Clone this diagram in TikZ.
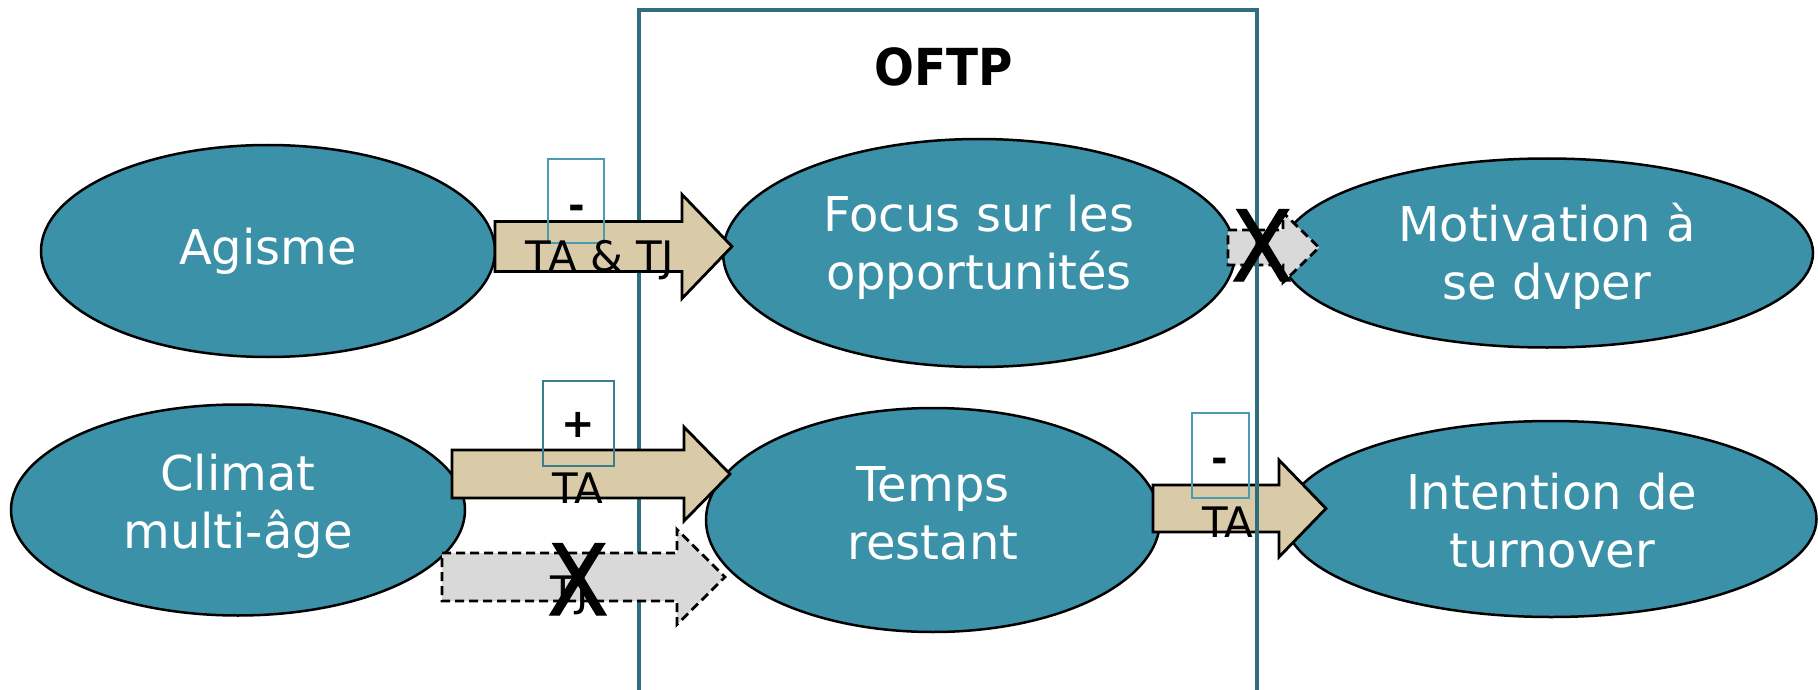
\documentclass[tikz,border=0pt]{standalone}
\usepackage{fontspec}
\setmainfont{DejaVu Sans}
\newfontfamily\titlefont[FakeStretch=0.92]{DejaVu Sans}
\newfontfamily\crossfont[FakeBold=1.2,FakeStretch=0.92]{DejaVu Sans}
\usetikzlibrary{shapes.geometric,calc}

\definecolor{ellfill}{HTML}{3A91A8}
\definecolor{tanfill}{HTML}{DACBA8}
\definecolor{greyfill}{HTML}{D9D9D9}
\definecolor{frameteal}{HTML}{2F6E7C}
\definecolor{boxteal}{HTML}{4B9CB0}
\definecolor{boxdark}{HTML}{3A7D8C}

\tikzset{
  bubble/.style={ellipse, draw=black, line width=2.5pt, fill=ellfill, inner sep=0pt},
  bubbletext/.style={text=white, font=\fontsize{48}{58}\selectfont, align=center, inner sep=0pt},
  bodyhalf/.store in=\abody, headhalf/.store in=\ahead, headlen/.store in=\alen,
  blockarrow/.style={line width=2.8pt, miter limit=10,
    to path={let \p1=(\tikztostart),\p2=(\tikztotarget) in
      (\x1,\y1+\abody pt) -- (\x2-\alen pt,\y1+\abody pt) -- (\x2-\alen pt,\y1+\ahead pt)
      -- (\x2,\y2) -- (\x2-\alen pt,\y1-\ahead pt) -- (\x2-\alen pt,\y1-\abody pt)
      -- (\x1,\y1-\abody pt) -- cycle}},
  solidarrow/.style={blockarrow, draw=black, fill=tanfill},
  dasharrow/.style={blockarrow, draw=black, fill=greyfill, dash pattern=on 9pt off 5pt},
  frame/.style={rectangle, draw=frameteal, line width=3.5pt, inner sep=0pt},
  signbox/.style={rectangle, line width=1.8pt, inner sep=0pt},
  arrowlabel/.style={font=\fontsize{42}{50}\selectfont, anchor=base, inner sep=0pt},
  sign/.style={font=\bfseries\fontsize{40}{48}\selectfont, anchor=base, inner sep=0pt},
  cross/.style={font=\crossfont\fontsize{98}{110}\selectfont, anchor=base, inner sep=0pt}
}

\begin{document}
\begin{tikzpicture}[x=1pt,y=-1pt]
\useasboundingbox (0,0) rectangle (1818,690);

% concepts
\node[bubble, minimum width=454pt, minimum height=212pt] (agisme) at (268,251) {};
\node[bubble, minimum width=512pt, minimum height=228pt] (focus) at (979,253) {};
\node[bubble, minimum width=532pt, minimum height=189pt] (motiv) at (1547,253) {};
\node[bubble, minimum width=454pt, minimum height=211pt] (climat) at (238,510) {};
\node[bubble, minimum width=454pt, minimum height=224pt] (temps) at (933,520) {};
\node[bubble, minimum width=531pt, minimum height=196pt] (turn) at (1551,519) {};

\node[bubbletext] (tagisme) at (agisme) {Agisme};
\node[bubbletext] (tfocus) at (979,247) {Focus sur les\\opportunités};
\node[bubbletext] (tmotiv) at (1547,256) {Motivation à\\se dvper};
\node[bubbletext] (tclimat) at (238,506) {Climat\\multi-âge};
\node[bubbletext] (ttemps) at (933,513) {Temps\\restant};
\node[bubbletext] (tturn) at (1552,521) {Intention de\\turnover};

% block arrows
\coordinate (a1s) at (495,246.5);  \coordinate (a1e) at (732,246.5);
\coordinate (a2s) at (1228,247.5); \coordinate (a2e) at (1319,247.5);
\coordinate (a3s) at (452,474);    \coordinate (a3e) at (730,474);
\coordinate (a4s) at (442,577);    \coordinate (a4e) at (725,577);
\coordinate (a5s) at (1153,508.5); \coordinate (a5e) at (1326,508.5);

% links leaving the frame run under its border
\draw[dasharrow, bodyhalf=17.5, headhalf=35, headlen=36] (a2s) to (a2e);
\draw[solidarrow, bodyhalf=23.5, headhalf=48.5, headlen=47] (a5s) to (a5e);

% OFTP frame
\node[frame, minimum width=618pt, minimum height=690pt] (oftp) at (948,355) {};
\node[font=\titlefont\bfseries\fontsize{51}{60}\selectfont, inner sep=0pt] (title) at (944,66.5) {OFTP};

% links entering the frame run over its border
\draw[solidarrow, bodyhalf=25, headhalf=52, headlen=50] (a1s) to (a1e);
\draw[solidarrow, bodyhalf=24, headhalf=47, headlen=46] (a3s) to (a3e);
\draw[dasharrow, bodyhalf=24, headhalf=47.5, headlen=48] (a4s) to (a4e);

% sign boxes
\node[signbox, draw=boxteal, minimum width=56pt, minimum height=84pt] (b1) at (576,201) {};
\node[signbox, draw=boxdark, minimum width=71pt, minimum height=85pt] (b2) at (578.5,423.5) {};
\node[signbox, draw=boxteal, minimum width=57pt, minimum height=85pt] (b3) at (1220.5,455.5) {};

% labels
\node[arrowlabel] (l1) at (600,271) {TA \& TJ};
\node[arrowlabel] (l3) at (578,503) {TA};
\node[arrowlabel] (l4) at (570,606) {TJ};
\node[arrowlabel] (l5) at (1228,537) {TA};

\node[sign] (s1) at (577,219) {-};
\node[sign] (s2) at (578,437) {+};
\node[sign] (s3) at (1220,472) {-};

% rejected links
\node[cross] (x1) at (1262,281) {X};
\node[cross] (x2) at (578,615) {X};
\end{tikzpicture}
\end{document}
